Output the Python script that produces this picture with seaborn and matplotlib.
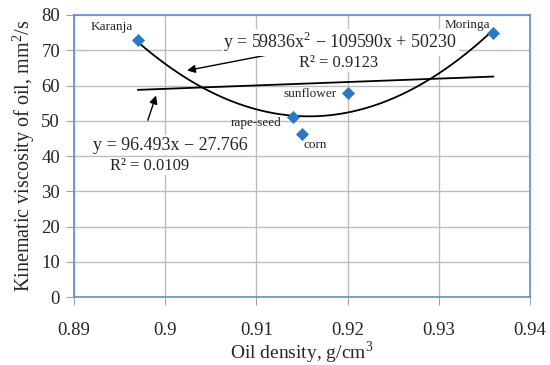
import numpy as np
import pandas as pd
import matplotlib
matplotlib.use("Agg")
import matplotlib.pyplot as plt
import seaborn as sns

# oil samples
oils = ["Karanja", "rape-seed", "corn", "sunflower", "Moringa"]
density = [0.897, 0.914, 0.915, 0.920, 0.936]
viscosity = [73.0, 51.0, 46.2, 58.0, 75.0]

x_ticks = [0.89, 0.90, 0.91, 0.92, 0.93, 0.94]
x_tick_labels = ["0.89", "0.9", "0.91", "0.92", "0.93", "0.94"]
y_ticks = [0, 10, 20, 30, 40, 50, 60, 70, 80]

quad_eq = "y = 59836x$^2$ \u2212 109590x + 50230"
quad_r2 = "R\u00b2 = 0.9123"
lin_eq = "y = 96.493x \u2212 27.766"
lin_r2 = "R\u00b2 = 0.0109"

df = pd.DataFrame({"oil": oils, "density": density, "viscosity": viscosity})

# trendlines over the data range
xs = np.linspace(min(density), max(density), 200)
quad = np.polyfit(df["density"], df["viscosity"], 2)
lin = np.polyfit(df["density"], df["viscosity"], 1)
trend = pd.DataFrame({"x": xs, "quad": np.polyval(quad, xs), "lin": np.polyval(lin, xs)})

sns.set_style("whitegrid")
plt.rcParams["font.family"] = ["Liberation Serif", "DejaVu Serif"]
plt.rcParams["mathtext.fontset"] = "custom"
plt.rcParams["mathtext.rm"] = "Liberation Serif"

fig = plt.figure(figsize=(5.5, 3.65), dpi=100)
ax = fig.add_axes([0.1345, 0.186, 0.829, 0.773])

sns.lineplot(data=trend, x="x", y="quad", color="black", lw=1.3, ax=ax)
sns.lineplot(data=trend, x="x", y="lin", color="black", lw=1.3, ax=ax)
sns.scatterplot(data=df, x="density", y="viscosity", marker="D", s=38,
                color="#2E78C0", edgecolor="#2E78C0", zorder=5, ax=ax)

ax.set_xlim(0.89, 0.94)
ax.set_ylim(0, 80)
ax.set_xticks(x_ticks)
ax.set_xticklabels(x_tick_labels)
ax.set_yticks(y_ticks)
ax.tick_params(axis="x", labelsize=13.5, length=6, pad=12, color="#A0A0A0", bottom=True)
ax.tick_params(axis="y", labelsize=13.5, length=6, pad=4, color="#A0A0A0", left=True)
ax.grid(True, color="#BDBDBD", lw=1)
for s in ax.spines.values():
    s.set_color("#5B8FCB")
    s.set_linewidth(1.2)

ax.set_xlabel("Oil density, g/cm$^3$", fontsize=14, labelpad=0)
ax.set_ylabel("Kinematic viscosity of oil, mm$^2$/s", fontsize=14.5, labelpad=3)

# point labels
lab_pos = {"Karanja": (0.8942, 76.6), "rape-seed": (0.9100, 49.4),
           "corn": (0.9165, 43.1), "sunflower": (0.9159, 57.6),
           "Moringa": (0.9331, 77.2)}
for name, (lx, ly) in lab_pos.items():
    ax.text(lx, ly, name, fontsize=9.5, ha="center", va="center")

arrow = dict(arrowstyle="-|>", color="black", lw=1, mutation_scale=12)
ax.annotate("", xy=(0.9021, 64.1), xytext=(0.9113, 68.7), arrowprops=arrow)
ax.annotate("", xy=(0.8991, 57.9), xytext=(0.8980, 49.4), arrowprops=arrow)

# trendline equations sit on white boxes, hiding the grid behind them
box = dict(facecolor="white", edgecolor="none", pad=1)
ax.text(0.9192, 72.3, quad_eq, fontsize=13, ha="center", va="center", bbox=box, zorder=6)
ax.text(0.9190, 66.4, quad_r2, fontsize=12, ha="center", va="center", bbox=box, zorder=6)
ax.text(0.9006, 43.1, lin_eq, fontsize=13, ha="center", va="center", bbox=box, zorder=6)
ax.text(0.8983, 37.2, lin_r2, fontsize=12, ha="center", va="center", bbox=box, zorder=6)

fig.savefig("out.png", dpi=100)
